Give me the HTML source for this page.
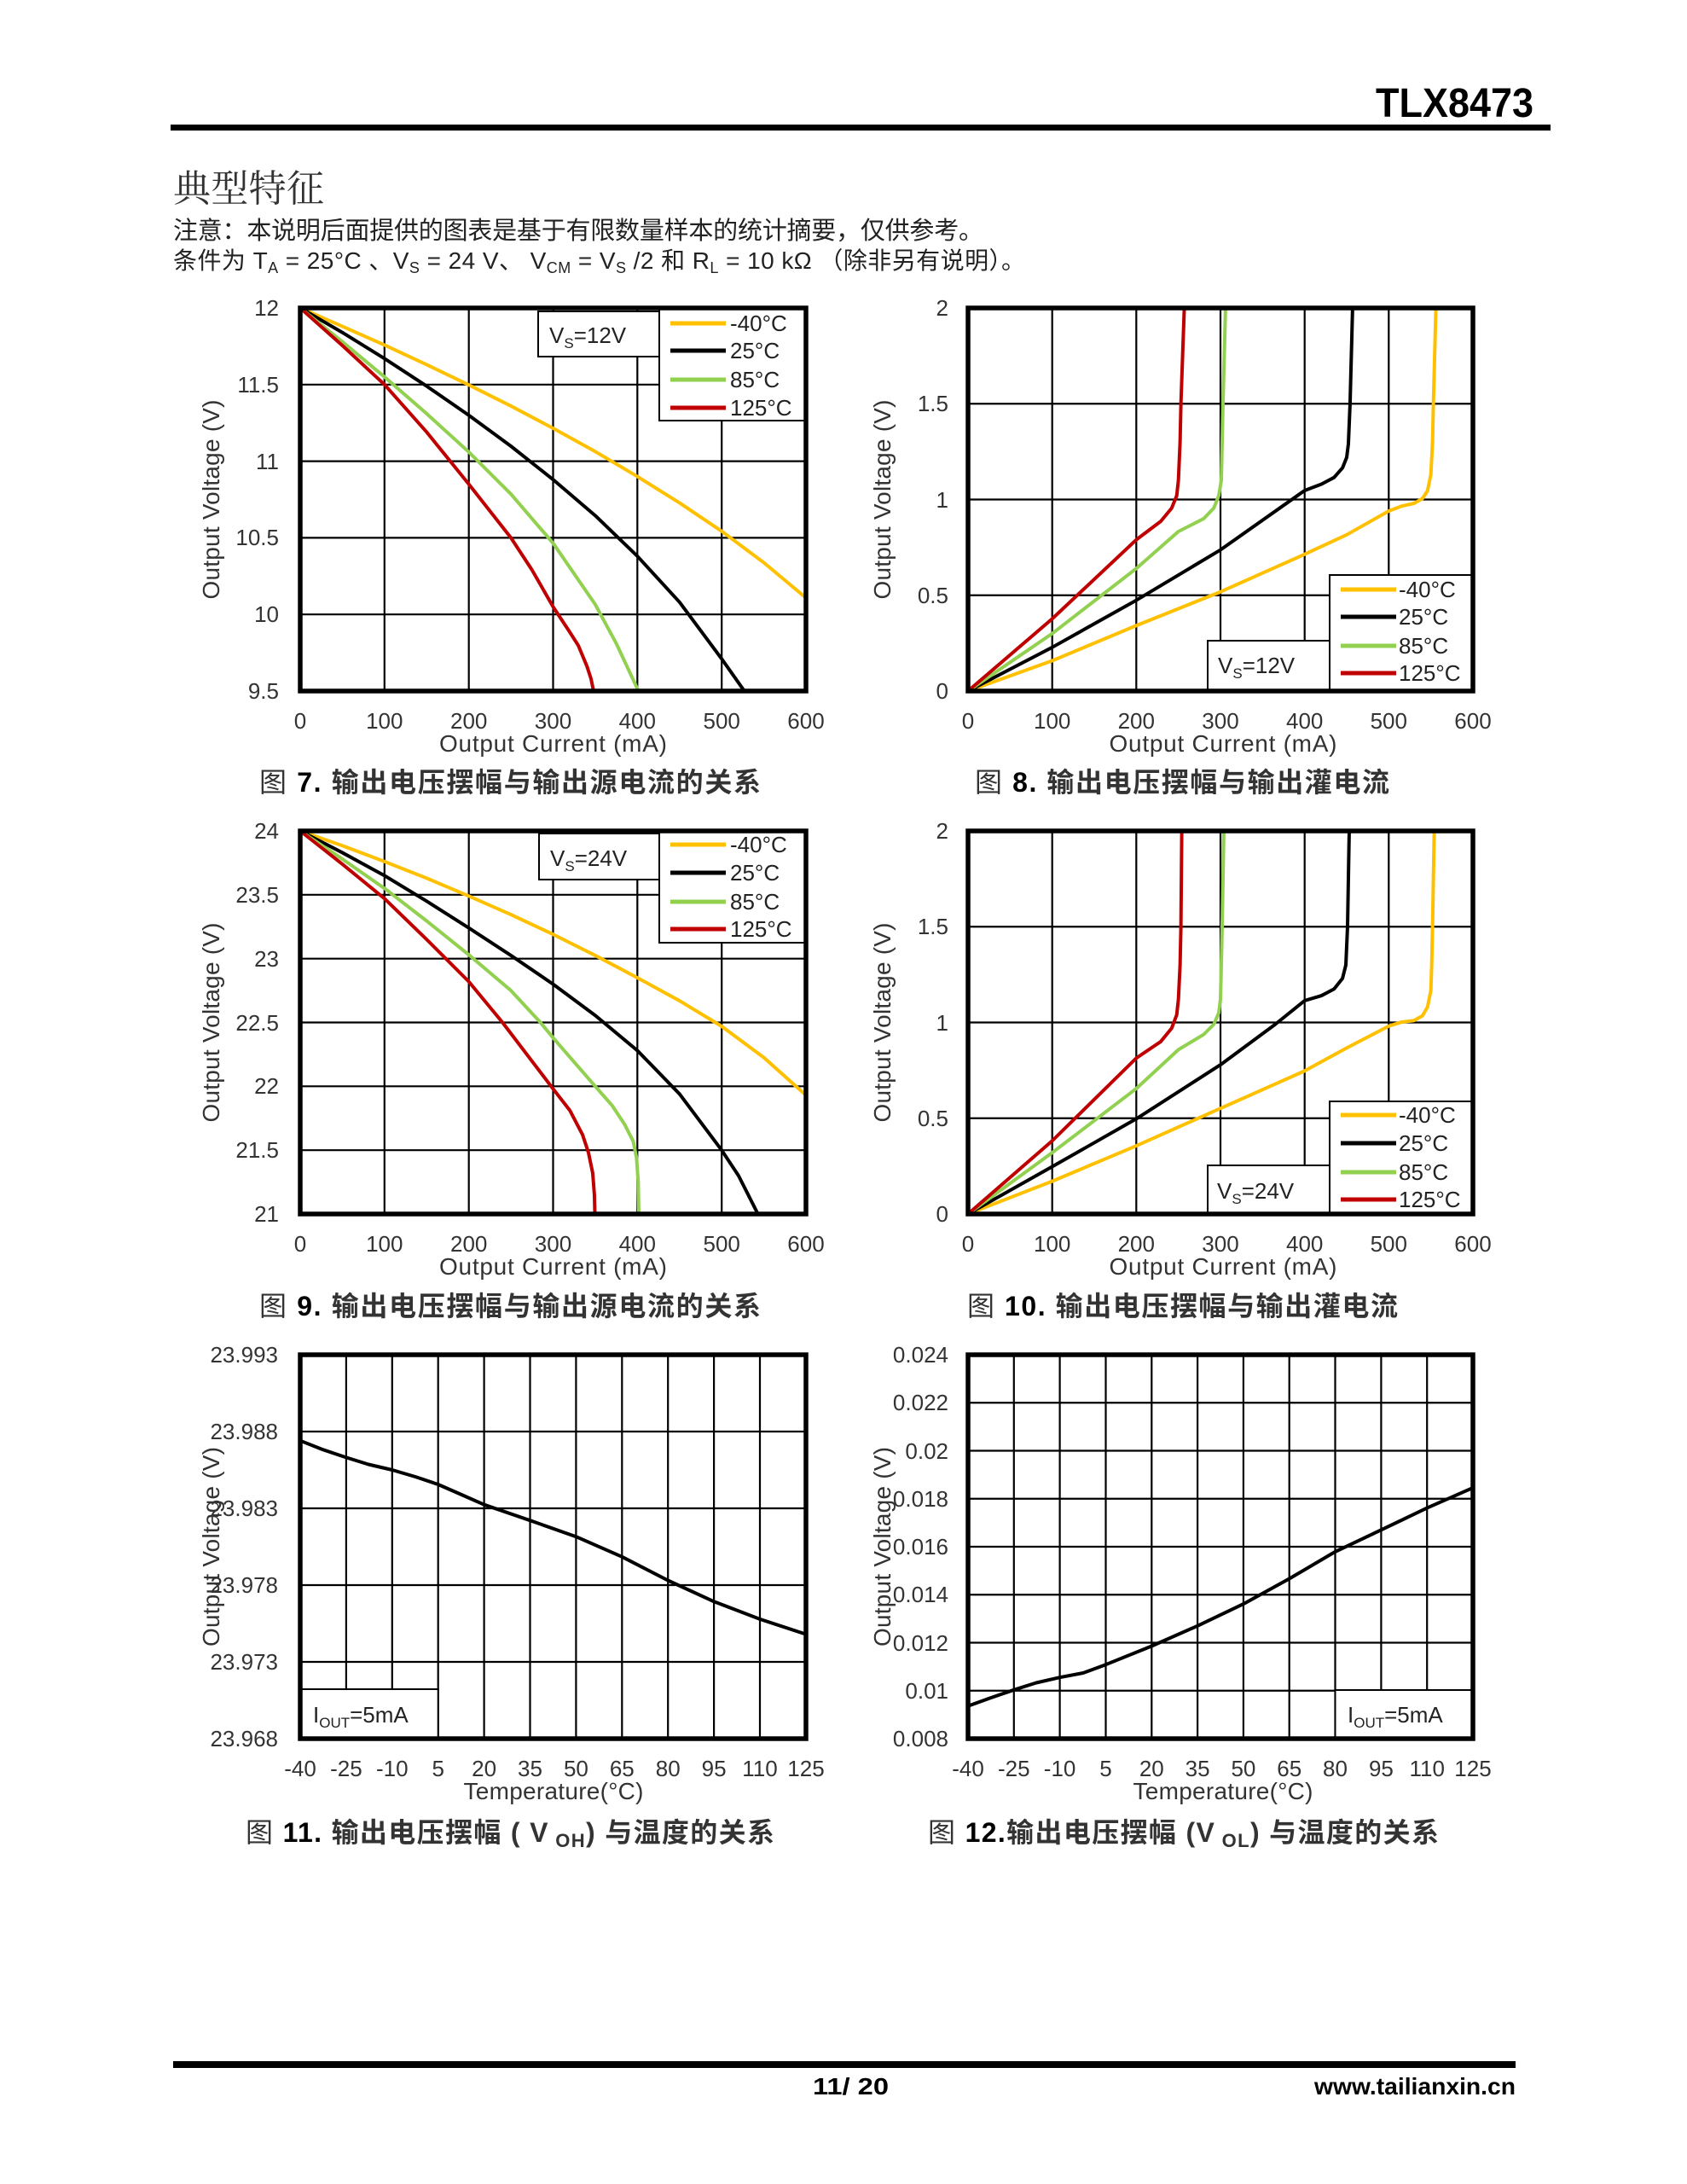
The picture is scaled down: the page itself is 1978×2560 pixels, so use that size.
<!DOCTYPE html>
<html><head><meta charset="utf-8">
<style>html,body{margin:0;padding:0;background:#fff}svg{display:block}</style>
</head><body>
<svg width="1978" height="2560" viewBox="0 0 1978 2560" xmlns="http://www.w3.org/2000/svg" font-family="'Liberation Sans','Noto Sans CJK SC',sans-serif">
<rect width="1978" height="2560" fill="#fff"/>

<!-- Header -->
<text x="1613" y="137" font-size="48" font-weight="bold" fill="#000" textLength="185" lengthAdjust="spacingAndGlyphs">TLX8473</text>
<rect x="200" y="146" width="1618" height="7" fill="#000"/>
<text x="203" y="236" font-size="44" font-family="'Noto Serif CJK SC','Noto Sans CJK SC',serif" fill="#333" textLength="177">典型特征</text>
<text x="203" y="280" font-size="29" fill="#222" textLength="950" lengthAdjust="spacing">注意：本说明后面提供的图表是基于有限数量样本的统计摘要，仅供参考。</text>
<text x="203" y="315" font-size="28" fill="#222" textLength="999" lengthAdjust="spacing">条件为 T<tspan font-size="18" dy="5">A</tspan><tspan dy="-5"> = 25°C 、V</tspan><tspan font-size="18" dy="5">S</tspan><tspan dy="-5"> = 24 V、 V</tspan><tspan font-size="18" dy="5">CM</tspan><tspan dy="-5"> = V</tspan><tspan font-size="18" dy="5">S</tspan><tspan dy="-5"> /2 和 R</tspan><tspan font-size="18" dy="5">L</tspan><tspan dy="-5"> = 10 kΩ （除非另有说明）。</tspan></text>

<!-- ================= Chart 7 ================= -->
<path d="M450.8 361V810M549.7 361V810M648.5 361V810M747.3 361V810M846.2 361V810M352 450.8H945M352 540.6H945M352 630.4H945M352 720.2H945" stroke="#000" stroke-width="2.2" fill="none"/>
<rect x="631" y="365" width="142" height="53" fill="#fff" stroke="#000" stroke-width="2"/>
<rect x="773" y="361" width="172" height="132" fill="#fff" stroke="#000" stroke-width="2"/>
<svg x="352" y="361" width="593" height="449" viewBox="0 0 600 2500" preserveAspectRatio="none">
<g fill="none" stroke-width="4" stroke-linejoin="round" stroke-linecap="round">
<polyline vector-effect="non-scaling-stroke" stroke="#FFC000" points="0,0 50,120 100,242 150,370 200,502 250,640 300,785 350,937 400,1100 450,1272 500,1457 550,1662 600,1892"/>
<polyline vector-effect="non-scaling-stroke" stroke="#000" points="0,0 50,160 100,330 150,510 200,700 250,902 300,1120 350,1355 400,1620 450,1920 500,2290 550,2680"/>
<polyline vector-effect="non-scaling-stroke" stroke="#92D050" points="0,0 50,220 100,450 150,690 200,940 250,1215 300,1535 350,1935 375,2190 400,2485 420,2785"/>
<polyline vector-effect="non-scaling-stroke" stroke="#C00000" points="0,0 50,245 100,500 150,810 200,1150 250,1500 275,1710 300,1950 320,2117 330,2204 340,2336 345,2420 348,2500 350,2600"/>
</g></svg>
<rect x="352" y="361" width="593" height="449" fill="none" stroke="#000" stroke-width="5.5"/>
<g stroke-width="5">
<line x1="786" y1="379" x2="851" y2="379" stroke="#FFC000"/>
<line x1="786" y1="411" x2="851" y2="411" stroke="#000"/>
<line x1="786" y1="445" x2="851" y2="445" stroke="#92D050"/>
<line x1="786" y1="478" x2="851" y2="478" stroke="#C00000"/>
</g>
<g font-size="26" fill="#222">
<text x="856" y="388">-40°C</text><text x="856" y="420">25°C</text><text x="856" y="454">85°C</text><text x="856" y="487">125°C</text>
<text x="644" y="402">V<tspan font-size="17" dy="6">S</tspan><tspan dy="-6">=12V</tspan></text>
</g>
<g font-size="26" fill="#333" text-anchor="end">
<text x="327" y="370">12</text><text x="327" y="460">11.5</text><text x="327" y="550">11</text><text x="327" y="639">10.5</text><text x="327" y="729">10</text><text x="327" y="819">9.5</text>
</g>
<g font-size="26" fill="#333" text-anchor="middle">
<text x="352" y="854">0</text><text x="450.8" y="854">100</text><text x="549.7" y="854">200</text><text x="648.5" y="854">300</text><text x="747.3" y="854">400</text><text x="846.2" y="854">500</text><text x="945" y="854">600</text>
</g>
<text x="648.5" y="881" font-size="28" fill="#333" text-anchor="middle" textLength="267">Output Current (mA)</text>
<text transform="translate(257,585.5) rotate(-90)" font-size="28" fill="#333" text-anchor="middle" textLength="234">Output Voltage (V)</text>
<text x="304" y="928" font-size="32" fill="#333" textLength="588" lengthAdjust="spacing">图 <tspan font-weight="bold" fill="#000">7.</tspan> <tspan font-weight="bold">输出电压摆幅与输出源电流的关系</tspan></text>

<!-- ================= Chart 8 ================= -->
<path d="M1233.7 361V810M1332.3 361V810M1431 361V810M1529.7 361V810M1628.3 361V810M1135 473.25H1727M1135 585.5H1727M1135 697.75H1727" stroke="#000" stroke-width="2.2" fill="none"/>
<rect x="1416" y="751" width="143" height="59" fill="#fff" stroke="#000" stroke-width="2"/>
<rect x="1559" y="674" width="168" height="136" fill="#fff" stroke="#000" stroke-width="2"/>
<svg x="1135" y="361" width="592" height="449" viewBox="0 0 600 2000" preserveAspectRatio="none">
<g fill="none" stroke-width="4" stroke-linejoin="round" stroke-linecap="round">
<polyline vector-effect="non-scaling-stroke" stroke="#FFC000" points="0,2000 100,1842 200,1658 300,1482 400,1286 450,1184 500,1060 515,1035 530,1020 540,995 546,955 550,870 552,700 553,500 556,0"/>
<polyline vector-effect="non-scaling-stroke" stroke="#000" points="0,2000 100,1772 200,1526 300,1263 400,953 420,920 435,885 445,835 450,780 452,710 454,500 457,0"/>
<polyline vector-effect="non-scaling-stroke" stroke="#92D050" points="0,2000 100,1700 200,1360 250,1167 280,1100 292,1045 298,980 301,900 302,700 303,500 306,0"/>
<polyline vector-effect="non-scaling-stroke" stroke="#C00000" points="0,2000 100,1623 200,1210 229,1114 242,1045 248,980 250,900 252,700 253,500 257,0"/>
</g></svg>
<rect x="1135" y="361" width="592" height="449" fill="none" stroke="#000" stroke-width="5.5"/>
<g stroke-width="5">
<line x1="1572" y1="691" x2="1637" y2="691" stroke="#FFC000"/>
<line x1="1572" y1="723" x2="1637" y2="723" stroke="#000"/>
<line x1="1572" y1="757" x2="1637" y2="757" stroke="#92D050"/>
<line x1="1572" y1="789" x2="1637" y2="789" stroke="#C00000"/>
</g>
<g font-size="26" fill="#222">
<text x="1640" y="700">-40°C</text><text x="1640" y="732">25°C</text><text x="1640" y="766">85°C</text><text x="1640" y="798">125°C</text>
<text x="1428" y="789">V<tspan font-size="17" dy="6">S</tspan><tspan dy="-6">=12V</tspan></text>
</g>
<g font-size="26" fill="#333" text-anchor="end">
<text x="1112" y="370">2</text><text x="1112" y="482">1.5</text><text x="1112" y="595">1</text><text x="1112" y="707">0.5</text><text x="1112" y="819">0</text>
</g>
<g font-size="26" fill="#333" text-anchor="middle">
<text x="1135" y="854">0</text><text x="1233.7" y="854">100</text><text x="1332.3" y="854">200</text><text x="1431" y="854">300</text><text x="1529.7" y="854">400</text><text x="1628.3" y="854">500</text><text x="1727" y="854">600</text>
</g>
<text x="1434" y="881" font-size="28" fill="#333" text-anchor="middle" textLength="267">Output Current (mA)</text>
<text transform="translate(1044,585.5) rotate(-90)" font-size="28" fill="#333" text-anchor="middle" textLength="234">Output Voltage (V)</text>
<text x="1143" y="928" font-size="32" fill="#333" textLength="486" lengthAdjust="spacing">图 <tspan font-weight="bold" fill="#000">8.</tspan> <tspan font-weight="bold">输出电压摆幅与输出灌电流</tspan></text>

<!-- ================= Chart 9 ================= -->
<path d="M450.8 974V1423M549.7 974V1423M648.5 974V1423M747.3 974V1423M846.2 974V1423M352 1048.8H945M352 1123.7H945M352 1198.5H945M352 1273.3H945M352 1348.2H945" stroke="#000" stroke-width="2.2" fill="none"/>
<rect x="632" y="977" width="141" height="54" fill="#fff" stroke="#000" stroke-width="2"/>
<rect x="773" y="974" width="172" height="131" fill="#fff" stroke="#000" stroke-width="2"/>
<svg x="352" y="974" width="593" height="449" viewBox="0 0 600 3000" preserveAspectRatio="none">
<g fill="none" stroke-width="4" stroke-linejoin="round" stroke-linecap="round">
<polyline vector-effect="non-scaling-stroke" stroke="#FFC000" points="0,0 50,115 100,240 150,370 200,510 250,655 300,810 350,975 400,1150 450,1330 500,1530 550,1775 600,2070"/>
<polyline vector-effect="non-scaling-stroke" stroke="#000" points="0,0 50,170 100,350 150,550 200,760 250,975 300,1200 350,1445 400,1720 450,2060 500,2500 520,2700 543,3000 550,3100"/>
<polyline vector-effect="non-scaling-stroke" stroke="#92D050" points="0,0 50,220 100,450 150,705 200,970 250,1250 285,1500 300,1620 325,1810 350,2000 370,2150 385,2300 395,2430 399,2560 401,2750 402,3100"/>
<polyline vector-effect="non-scaling-stroke" stroke="#C00000" points="0,0 50,260 100,530 150,850 200,1180 240,1500 270,1760 300,2020 320,2190 335,2380 342,2520 347,2680 349,2850 350,3100"/>
</g></svg>
<rect x="352" y="974" width="593" height="449" fill="none" stroke="#000" stroke-width="5.5"/>
<g stroke-width="5">
<line x1="786" y1="990" x2="851" y2="990" stroke="#FFC000"/>
<line x1="786" y1="1023" x2="851" y2="1023" stroke="#000"/>
<line x1="786" y1="1057" x2="851" y2="1057" stroke="#92D050"/>
<line x1="786" y1="1089" x2="851" y2="1089" stroke="#C00000"/>
</g>
<g font-size="26" fill="#222">
<text x="856" y="999">-40°C</text><text x="856" y="1032">25°C</text><text x="856" y="1066">85°C</text><text x="856" y="1098">125°C</text>
<text x="645" y="1015">V<tspan font-size="17" dy="6">S</tspan><tspan dy="-6">=24V</tspan></text>
</g>
<g font-size="26" fill="#333" text-anchor="end">
<text x="327" y="983">24</text><text x="327" y="1058">23.5</text><text x="327" y="1133">23</text><text x="327" y="1208">22.5</text><text x="327" y="1282">22</text><text x="327" y="1357">21.5</text><text x="327" y="1432">21</text>
</g>
<g font-size="26" fill="#333" text-anchor="middle">
<text x="352" y="1467">0</text><text x="450.8" y="1467">100</text><text x="549.7" y="1467">200</text><text x="648.5" y="1467">300</text><text x="747.3" y="1467">400</text><text x="846.2" y="1467">500</text><text x="945" y="1467">600</text>
</g>
<text x="648.5" y="1494" font-size="28" fill="#333" text-anchor="middle" textLength="267">Output Current (mA)</text>
<text transform="translate(257,1198.5) rotate(-90)" font-size="28" fill="#333" text-anchor="middle" textLength="234">Output Voltage (V)</text>
<text x="304" y="1542" font-size="32" fill="#333" textLength="588" lengthAdjust="spacing">图 <tspan font-weight="bold" fill="#000">9.</tspan> <tspan font-weight="bold">输出电压摆幅与输出源电流的关系</tspan></text>

<!-- ================= Chart 10 ================= -->
<path d="M1233.7 974V1423M1332.3 974V1423M1431 974V1423M1529.7 974V1423M1628.3 974V1423M1135 1086.25H1727M1135 1198.5H1727M1135 1310.75H1727" stroke="#000" stroke-width="2.2" fill="none"/>
<rect x="1416" y="1366" width="143" height="57" fill="#fff" stroke="#000" stroke-width="2"/>
<rect x="1559" y="1291" width="168" height="132" fill="#fff" stroke="#000" stroke-width="2"/>
<svg x="1135" y="974" width="592" height="449" viewBox="0 0 600 2000" preserveAspectRatio="none">
<g fill="none" stroke-width="4" stroke-linejoin="round" stroke-linecap="round">
<polyline vector-effect="non-scaling-stroke" stroke="#FFC000" points="0,2000 100,1829 200,1644 290,1468 400,1253 450,1133 500,1019 515,998 530,990 540,965 546,920 550,833 551,700 552,500 554,0"/>
<polyline vector-effect="non-scaling-stroke" stroke="#000" points="0,2000 100,1753 200,1503 300,1221 365,1010 400,886 420,860 435,825 445,770 449,700 451,500 453,0"/>
<polyline vector-effect="non-scaling-stroke" stroke="#92D050" points="0,2000 100,1680 200,1345 250,1142 280,1063 292,1010 298,950 300,880 301,700 302,500 304,0"/>
<polyline vector-effect="non-scaling-stroke" stroke="#C00000" points="0,2000 100,1618 200,1186 229,1100 242,1030 248,960 250,880 252,700 253,500 254,0"/>
</g></svg>
<rect x="1135" y="974" width="592" height="449" fill="none" stroke="#000" stroke-width="5.5"/>
<g stroke-width="5">
<line x1="1572" y1="1307" x2="1637" y2="1307" stroke="#FFC000"/>
<line x1="1572" y1="1340" x2="1637" y2="1340" stroke="#000"/>
<line x1="1572" y1="1374" x2="1637" y2="1374" stroke="#92D050"/>
<line x1="1572" y1="1406" x2="1637" y2="1406" stroke="#C00000"/>
</g>
<g font-size="26" fill="#222">
<text x="1640" y="1316">-40°C</text><text x="1640" y="1349">25°C</text><text x="1640" y="1383">85°C</text><text x="1640" y="1415">125°C</text>
<text x="1427" y="1405">V<tspan font-size="17" dy="6">S</tspan><tspan dy="-6">=24V</tspan></text>
</g>
<g font-size="26" fill="#333" text-anchor="end">
<text x="1112" y="983">2</text><text x="1112" y="1095">1.5</text><text x="1112" y="1208">1</text><text x="1112" y="1320">0.5</text><text x="1112" y="1432">0</text>
</g>
<g font-size="26" fill="#333" text-anchor="middle">
<text x="1135" y="1467">0</text><text x="1233.7" y="1467">100</text><text x="1332.3" y="1467">200</text><text x="1431" y="1467">300</text><text x="1529.7" y="1467">400</text><text x="1628.3" y="1467">500</text><text x="1727" y="1467">600</text>
</g>
<text x="1434" y="1494" font-size="28" fill="#333" text-anchor="middle" textLength="267">Output Current (mA)</text>
<text transform="translate(1044,1198.5) rotate(-90)" font-size="28" fill="#333" text-anchor="middle" textLength="234">Output Voltage (V)</text>
<text x="1134" y="1542" font-size="32" fill="#333" textLength="505" lengthAdjust="spacing">图 <tspan font-weight="bold" fill="#000">10.</tspan> <tspan font-weight="bold">输出电压摆幅与输出灌电流</tspan></text>

<!-- ================= Chart 11 ================= -->
<path d="M405.9 1588V2038M459.8 1588V2038M513.7 1588V2038M567.6 1588V2038M621.5 1588V2038M675.4 1588V2038M729.3 1588V2038M783.2 1588V2038M837.1 1588V2038M891 1588V2038M352 1678H945M352 1768H945M352 1858H945M352 1948H945" stroke="#000" stroke-width="2.2" fill="none"/>
<rect x="352" y="1980" width="161.7" height="58" fill="#fff" stroke="#000" stroke-width="2"/>
<polyline fill="none" stroke="#000" stroke-width="4" stroke-linejoin="round" points="352,1688.7 378,1699 405.9,1708.4 432,1716.5 459.8,1723 487,1731 513.7,1740 540,1751.5 567.6,1763.7 621.5,1782.2 675.4,1801.2 729.3,1824.8 783.2,1852.5 837.1,1877.3 891,1897.9 945,1915.6"/>
<rect x="352" y="1588" width="593" height="450" fill="none" stroke="#000" stroke-width="5.5"/>
<text x="367" y="2019" font-size="26" fill="#222">I<tspan font-size="17" dy="6">OUT</tspan><tspan dy="-6">=5mA</tspan></text>
<text transform="translate(257,1813) rotate(-90)" font-size="28" fill="#333" text-anchor="middle" textLength="234">Output Voltage (V)</text>
<g font-size="26" fill="#333" text-anchor="end">
<text x="326" y="1597">23.993</text><text x="326" y="1687">23.988</text><text x="326" y="1777">23.983</text><text x="326" y="1867">23.978</text><text x="326" y="1957">23.973</text><text x="326" y="2047">23.968</text>
</g>
<g font-size="26" fill="#333" text-anchor="middle">
<text x="352" y="2082">-40</text><text x="405.9" y="2082">-25</text><text x="459.8" y="2082">-10</text><text x="513.7" y="2082">5</text><text x="567.6" y="2082">20</text><text x="621.5" y="2082">35</text><text x="675.4" y="2082">50</text><text x="729.3" y="2082">65</text><text x="783.2" y="2082">80</text><text x="837.1" y="2082">95</text><text x="891" y="2082">110</text><text x="945" y="2082">125</text>
</g>
<text x="649" y="2109" font-size="28" fill="#333" text-anchor="middle" textLength="211">Temperature(°C)</text>
<text x="288" y="2159" font-size="32" fill="#333" textLength="620" lengthAdjust="spacing">图 <tspan font-weight="bold" fill="#000">11.</tspan> <tspan font-weight="bold">输出电压摆幅 ( V</tspan><tspan font-weight="bold" font-size="22" dy="6"> OH</tspan><tspan font-weight="bold" dy="-6">) 与温度的关系</tspan></text>

<!-- ================= Chart 12 ================= -->
<path d="M1188.8 1588V2038M1242.6 1588V2038M1296.5 1588V2038M1350.3 1588V2038M1404.1 1588V2038M1457.9 1588V2038M1511.7 1588V2038M1565.5 1588V2038M1619.4 1588V2038M1673.2 1588V2038M1135 1644.25H1727M1135 1700.5H1727M1135 1756.75H1727M1135 1813H1727M1135 1869.25H1727M1135 1925.5H1727M1135 1981.75H1727" stroke="#000" stroke-width="2.2" fill="none"/>
<rect x="1565.5" y="1981" width="161.5" height="57" fill="#fff" stroke="#000" stroke-width="2"/>
<polyline fill="none" stroke="#000" stroke-width="4" stroke-linejoin="round" points="1135,1999.7 1162,1990 1188.8,1980.8 1215,1972.5 1242.6,1966.2 1270,1961 1296.5,1951.2 1350.3,1929.5 1404.1,1905.8 1457.9,1880.1 1511.7,1850.5 1565.5,1818.9 1619.4,1793.3 1673.2,1767.6 1727,1743.9"/>
<rect x="1135" y="1588" width="592" height="450" fill="none" stroke="#000" stroke-width="5.5"/>
<text x="1580" y="2019" font-size="26" fill="#222">I<tspan font-size="17" dy="6">OUT</tspan><tspan dy="-6">=5mA</tspan></text>
<text transform="translate(1044,1813) rotate(-90)" font-size="28" fill="#333" text-anchor="middle" textLength="234">Output Voltage (V)</text>
<g font-size="26" fill="#333" text-anchor="end">
<text x="1112" y="1597">0.024</text><text x="1112" y="1653">0.022</text><text x="1112" y="1710">0.02</text><text x="1112" y="1766">0.018</text><text x="1112" y="1822">0.016</text><text x="1112" y="1878">0.014</text><text x="1112" y="1935">0.012</text><text x="1112" y="1991">0.01</text><text x="1112" y="2047">0.008</text>
</g>
<g font-size="26" fill="#333" text-anchor="middle">
<text x="1135" y="2082">-40</text><text x="1188.8" y="2082">-25</text><text x="1242.6" y="2082">-10</text><text x="1296.5" y="2082">5</text><text x="1350.3" y="2082">20</text><text x="1404.1" y="2082">35</text><text x="1457.9" y="2082">50</text><text x="1511.7" y="2082">65</text><text x="1565.5" y="2082">80</text><text x="1619.4" y="2082">95</text><text x="1673.2" y="2082">110</text><text x="1727" y="2082">125</text>
</g>
<text x="1434" y="2109" font-size="28" fill="#333" text-anchor="middle" textLength="211">Temperature(°C)</text>
<text x="1088" y="2159" font-size="32" fill="#333" textLength="599" lengthAdjust="spacing">图 <tspan font-weight="bold" fill="#000">12.</tspan><tspan font-weight="bold">输出电压摆幅 (V</tspan><tspan font-weight="bold" font-size="22" dy="6"> OL</tspan><tspan font-weight="bold" dy="-6">) 与温度的关系</tspan></text>

<!-- Footer -->
<rect x="203" y="2416" width="1574" height="8" fill="#000"/>
<text x="953" y="2455" font-size="28" font-weight="bold" fill="#000" textLength="89" lengthAdjust="spacingAndGlyphs">11/ 20</text>
<text x="1541" y="2455" font-size="28" font-weight="bold" fill="#000" textLength="236" lengthAdjust="spacingAndGlyphs">www.tailianxin.cn</text>
</svg>
</body></html>
